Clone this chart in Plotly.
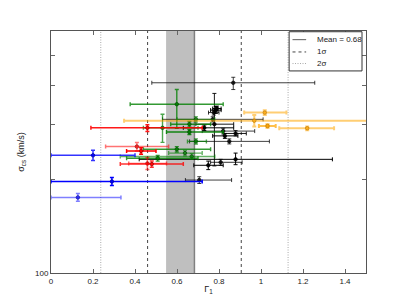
import plotly.graph_objects as go

# ---------------- data ----------------
black_x   = [0.868, 0.785, 0.790, 0.775, 0.770, 0.778, 0.730, 0.820, 0.879, 0.828, 0.849, 0.879, 0.808, 0.749, 0.706]
black_xlo = [0.480, 0.760, 0.770, 0.750, 0.531, 0.690, 0.630, 0.720, 0.820, 0.770, 0.660, 0.420, 0.760, 0.680, 0.640]
black_xhi = [1.256, 0.810, 0.810, 0.800, 1.010, 0.870, 0.870, 0.970, 0.930, 0.890, 1.040, 1.340, 0.910, 0.820, 0.860]
black_y   = [409, 334, 338, 328, 312, 301, 293, 286, 281, 276, 265, 232, 227, 222, 199]
black_ylo = [389, 326, 332, 322, 306, 221, 287, 280, 276, 271, 260, 223, 222, 215, 194]
black_yhi = [426, 343, 344, 334, 318, 378, 299, 292, 287, 281, 270, 243, 232, 229, 204]
black_alpha = [0.75, 1.0, 1.0, 0.8, 0.75, 0.9, 1.0, 0.75, 0.9, 1.0, 0.75, 1.0, 0.8, 1.0, 0.75]

green_x   = [0.599, 0.690, 0.659, 0.531, 0.659, 0.690, 0.599, 0.638, 0.670, 0.508]
green_xlo = [0.377, 0.600, 0.570, 0.440, 0.550, 0.650, 0.440, 0.560, 0.330, 0.360]
green_xhi = [0.820, 0.780, 0.760, 0.700, 0.820, 0.740, 0.760, 0.720, 0.780, 0.700]
green_y   = [349, 312, 301, 293, 284, 265, 250, 243, 237, 234]
green_ylo = [292, 306, 295, 263, 279, 260, 245, 238, 232, 229]
green_yhi = [389, 318, 307, 324, 289, 270, 255, 248, 242, 239]
green_alpha = [0.8, 0.6, 0.8, 0.7, 0.9, 0.7, 0.8, 0.6, 0.6, 0.8]

red_x   = [0.459, 0.409, 0.429, 0.459, 0.480]
red_xlo = [0.190, 0.260, 0.360, 0.370, 0.330]
red_xhi = [0.720, 0.560, 0.500, 0.550, 0.630]
red_y   = [293, 255, 247, 225, 224]
red_ylo = [285, 247, 241, 215, 219]
red_yhi = [300, 263, 253, 235, 229]
red_alpha = [0.9, 0.55, 1.0, 0.6, 0.8]

blue_x   = [0.200, 0.290, 0.128]
blue_xlo = [0.000, 0.000, 0.000]
blue_xhi = [0.400, 0.720, 0.333]
blue_y   = [239, 197, 175]
blue_ylo = [230, 191, 170]
blue_yhi = [248, 203, 180]
blue_alpha = [0.8, 1.0, 0.5]

orange_x   = [1.018, 0.968, 1.031, 1.220]
orange_xlo = [0.920, 0.348, 0.990, 1.087]
orange_xhi = [1.121, 1.600, 1.070, 1.348]
orange_y   = [328, 309, 297, 292]
orange_ylo = [322, 296, 293, 288]
orange_yhi = [334, 322, 301, 296]
orange_alpha = [0.55, 0.55, 0.7, 0.55]

MEAN = 0.683
MEAN_LABEL = "Mean = 0.68"
BAND_LO = 0.548
SIGMA = 0.223

x_ticks = [0, 0.2, 0.4, 0.6, 0.8, 1.0, 1.2, 1.4]
x_ticklabels = ["0", "0.2", "0.4", "0.6", "0.8", "1", "1.2", "1.4"]
y_major = [100]
y_major_labels = ["100"]
y_minor = [200, 300, 400, 500]

legend_labels = [MEAN_LABEL, "1σ", "2σ"]
legend_styles = [("solid", "#777777", 1.2), ("3px,3px", "#444444", 1.0), ("1px,1.5px", "#aaaaaa", 1.0)]

# ---------------- figure ----------------
fig = go.Figure()

def add_group(xs, xlo, xhi, ys, ylo, yhi, alphas, rgb, thick, mk_line):
    for i in range(len(xs)):
        col = "rgba(%d,%d,%d,%.2f)" % (rgb[0], rgb[1], rgb[2], alphas[i])
        fig.add_trace(go.Scatter(
            x=[xs[i]], y=[ys[i]], mode="markers",
            marker=dict(size=3.5, color=col, symbol="circle",
                        line=dict(color=mk_line, width=0.8)),
            error_x=dict(type="data", symmetric=False,
                         array=[xhi[i] - xs[i]], arrayminus=[xs[i] - xlo[i]],
                         color=col, thickness=thick, width=2),
            error_y=dict(type="data", symmetric=False,
                         array=[yhi[i] - ys[i]], arrayminus=[ys[i] - ylo[i]],
                         color=col, thickness=thick, width=2),
            showlegend=False, hoverinfo="skip"))

add_group(black_x, black_xlo, black_xhi, black_y, black_ylo, black_yhi,
          black_alpha, (0, 0, 0), 1.0, "rgba(0,0,0,0.9)")
add_group(green_x, green_xlo, green_xhi, green_y, green_ylo, green_yhi,
          green_alpha, (0, 128, 0), 1.4, "rgba(0,70,0,0.9)")
add_group(red_x, red_xlo, red_xhi, red_y, red_ylo, red_yhi,
          red_alpha, (255, 0, 0), 1.5, "rgba(150,0,0,0.9)")
add_group(blue_x, blue_xlo, blue_xhi, blue_y, blue_ylo, blue_yhi,
          blue_alpha, (0, 0, 255), 1.5, "rgba(0,0,150,0.9)")
add_group(orange_x, orange_xlo, orange_xhi, orange_y, orange_ylo, orange_yhi,
          orange_alpha, (255, 165, 0), 2.0, "rgba(190,120,0,0.9)")

shapes = [
    dict(type="rect", xref="x", yref="paper", x0=BAND_LO, x1=MEAN, y0=0, y1=1,
         fillcolor="#bfbfbf", line=dict(width=0), layer="below"),
    dict(type="line", xref="x", yref="paper", x0=MEAN, x1=MEAN, y0=0, y1=1,
         line=dict(color="#808080", width=1.5), layer="below"),
]
for k, (dash, col) in enumerate([("3px,3px", "#444444"), ("1px,1.5px", "#aaaaaa")], start=1):
    for sgn in (-1, 1):
        xv = MEAN + sgn * k * SIGMA
        shapes.append(dict(type="line", xref="x", yref="paper", x0=xv, x1=xv,
                           y0=0, y1=1, line=dict(color=col, width=1, dash=dash),
                           layer="below"))

# hand-drawn legend box (matplotlib style) in the upper right corner
shapes.append(dict(type="rect", xref="x", yref="paper", x0=1.134, x1=1.481,
                   y0=0.835, y1=0.997, fillcolor="white",
                   line=dict(color="#333333", width=1)))
annotations = []
leg_y = [0.9645, 0.9134, 0.8656]
for lab, (dash, col, w), yy in zip(legend_labels, legend_styles, leg_y):
    shapes.append(dict(type="line", xref="x", yref="paper", x0=1.150, x1=1.215,
                       y0=yy, y1=yy, line=dict(color=col, width=w, dash=dash)))
    annotations.append(dict(x=1.255, y=yy, xref="x", yref="paper", text=lab,
                            showarrow=False, xanchor="left", yanchor="middle",
                            font=dict(size=8, color="#222222")))

fig.update_layout(
    width=407, height=305,
    margin=dict(l=43, r=49, t=23, b=40),
    paper_bgcolor="white", plot_bgcolor="white",
    font=dict(family="Liberation Sans, Arial, sans-serif", size=8, color="#222222"),
    shapes=shapes, annotations=annotations,
    showlegend=False,
    xaxis=dict(range=[0, 1.5], tickvals=x_ticks, ticktext=x_ticklabels,
               ticks="inside", ticklen=4, tickcolor="#666666", showgrid=False,
               zeroline=False, showline=True, linecolor="#555555", linewidth=1,
               mirror="ticks",
               title=dict(text="Γ<sub>1</sub>", font=dict(size=9), standoff=1)),
    yaxis=dict(type="log", range=[2, 2.7782], tickmode="array",
               tickvals=y_major, ticktext=y_major_labels,
               ticks="inside", ticklen=4, tickcolor="#666666", showgrid=False,
               minor=dict(tickmode="array", tickvals=y_minor, ticks="inside",
                          ticklen=4, tickcolor="#666666", showgrid=False),
               zeroline=False, showline=True, linecolor="#555555", linewidth=1,
               mirror="ticks",
               title=dict(text="σ<sub>cs</sub> (km/s)", font=dict(size=9), standoff=8)),
)

fig.write_html("out.html")
